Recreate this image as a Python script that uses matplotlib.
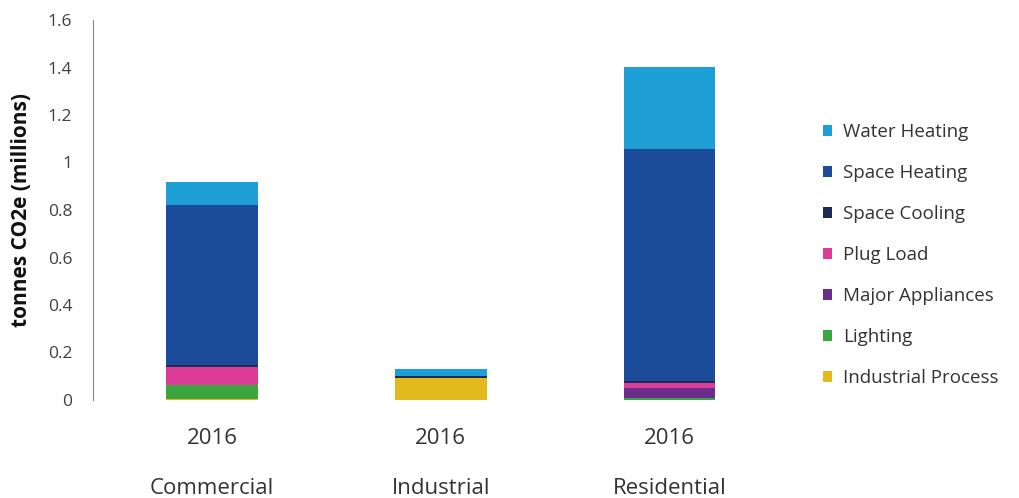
import matplotlib
matplotlib.use("Agg")
import matplotlib.pyplot as plt
import numpy as np
from matplotlib.transforms import blended_transform_factory

plt.rcParams['font.family'] = ['Open Sans', 'DejaVu Sans']

sectors = ["Commercial", "Industrial", "Residential"]
years = ["2016", "2016", "2016"]
series_names = ["Industrial Process", "Lighting", "Major Appliances", "Plug Load",
                "Space Cooling", "Space Heating", "Water Heating"]
industrial_process = [0.003, 0.093, 0.0]
lighting = [0.060, 0.0, 0.010]
major_appliances = [0.0, 0.0, 0.042]
plug_load = [0.076, 0.0, 0.020]
space_cooling = [0.007, 0.006, 0.007]
space_heating = [0.677, 0.003, 0.979]
water_heating = [0.093, 0.027, 0.342]
colors = ["#E2BA1E", "#3AA63F", "#6A2D8B", "#DD3D96", "#1B2B57", "#1B4C9C", "#1EA0D6"]

series = [industrial_process, lighting, major_appliances, plug_load,
          space_cooling, space_heating, water_heating]

fig = plt.figure(figsize=(10.2, 4.98), dpi=100)
ax = fig.add_axes([93/1020, 1-400/498, (784-93)/1020, 380/498])

x = np.arange(len(sectors))
bottom = np.zeros(len(sectors))
handles = []
for name, vals, c in zip(series_names, series, colors):
    b = ax.bar(x, vals, width=0.40, bottom=bottom, color=c, label=name)
    handles.append(b)
    bottom += np.array(vals)

ax.set_xlim(-0.52, 2.5)
ax.set_ylim(0, 1.6)
ax.set_yticks(np.arange(0, 1.61, 0.2))
ax.set_yticklabels(["0", "0.2", "0.4", "0.6", "0.8", "1", "1.2", "1.4", "1.6"])
ax.tick_params(axis='y', length=0, labelsize=12.5, labelcolor="#404040", pad=15)
ax.set_xticks(x)
ax.set_xticklabels(years)
ax.tick_params(axis='x', length=0, labelsize=16, labelcolor="#333333", pad=20)
for s in ["top", "right", "bottom"]:
    ax.spines[s].set_visible(False)
ax.spines["left"].set_color("#888888")
ax.spines["left"].set_linewidth(0.8)

tr = blended_transform_factory(ax.transData, ax.transAxes)
for xi, name in zip(x, sectors):
    ax.text(xi, -0.234, name, transform=tr, ha="center", va="center",
            fontsize=16, color="#333333")

ax.set_ylabel("tonnes CO2e (millions)", fontsize=15, fontweight="bold", color="#111111")
ax.yaxis.set_label_coords(-0.088, 0.5)

leg = fig.legend(handles[::-1], series_names[::-1], loc="upper left",
                 bbox_to_anchor=(806/1020, 1-106/498), frameon=False,
                 fontsize=13.5, handlelength=0.5, handleheight=0.5,
                 handletextpad=0.6, labelspacing=1.23)
for t in leg.get_texts():
    t.set_color("#333333")

fig.savefig("out.png", dpi=100)
